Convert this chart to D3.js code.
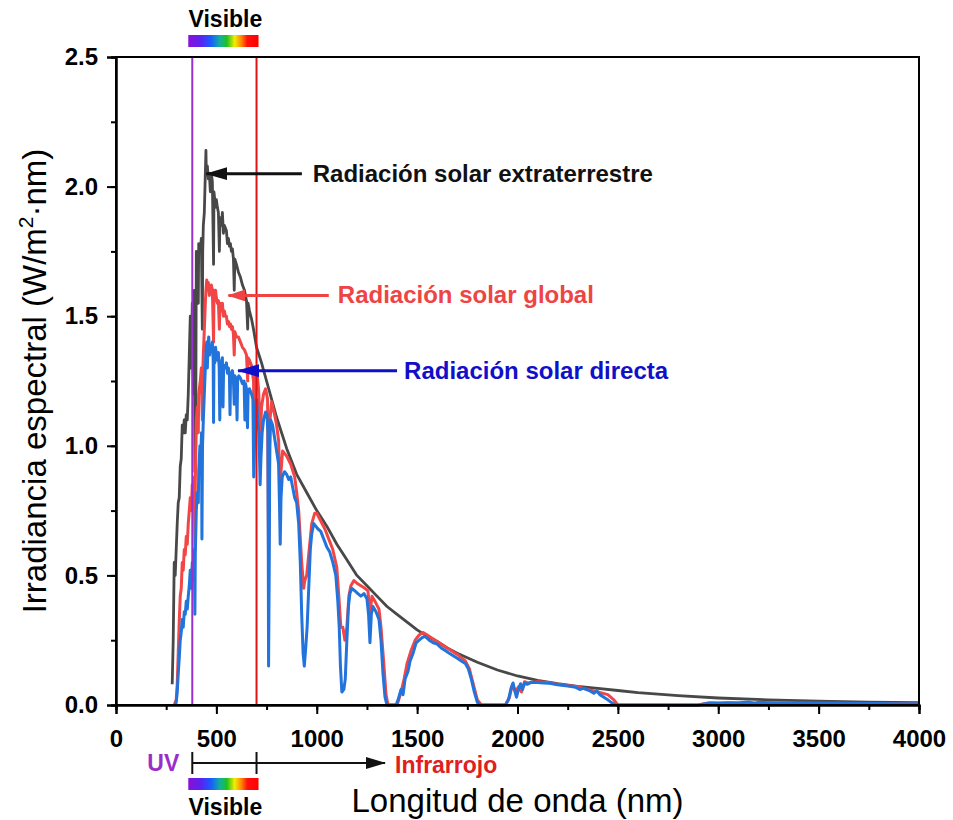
<!DOCTYPE html>
<html><head><meta charset="utf-8">
<script src="https://cdn.jsdelivr.net/npm/d3@7"></script>
<style>body{margin:0;background:#fff}svg{display:block}text{font-family:"Liberation Sans",Arial,sans-serif}</style>
</head><body><svg id="c" width="953" height="820"></svg>
<script>
const xTicks=[0,500,1000,1500,2000,2500,3000,3500,4000];
const yTicks=[0.0,0.5,1.0,1.5,2.0,2.5];
const bandEdges=[380,700];
const seriesNames=["Radiación solar extraterrestre","Radiación solar global","Radiación solar directa"];

const extraterrestre=[[280,0.08],[285,0.25],[290,0.55],[295,0.5],[300,0.6],[305,0.7],[310,0.78],[315,0.8],[320,0.92],[325,0.95],[330,1.08],[335,1.05],[340,1.1],[345,1.05],[350,1.12],[355,1.1],[360,1.2],[365,1.35],[370,1.5],[375,1.3],[380,1.55],[385,1.2],[390,1.6],[393,0.9],[395,1.5],[397,1.0],[400,1.75],[405,1.72],[410,1.55],[412,1.78],[420,1.75],[425,1.8],[430,1.45],[432,1.75],[435,1.85],[440,1.9],[445,2.05],[448,2.14],[450,2.05],[455,2.08],[460,2.03],[465,2.05],[470,1.98],[475,2.05],[480,2.02],[486,1.7],[488,1.98],[492,1.95],[495,1.92],[500,1.95],[505,1.92],[510,1.9],[515,1.75],[518,1.88],[525,1.85],[530,1.9],[535,1.82],[540,1.85],[545,1.84],[550,1.83],[555,1.78],[560,1.8],[565,1.77],[570,1.78],[575,1.75],[580,1.76],[585,1.72],[589,1.6],[592,1.72],[600,1.7],[610,1.67],[620,1.65],[630,1.62],[640,1.6],[650,1.56],[656,1.45],[658,1.55],[665,1.52],[675,1.49],[685,1.45],[700,1.38],[725,1.32],[750,1.25],[775,1.18],[800,1.11],[850,0.99],[900,0.89],[950,0.82],[1000,0.75],[1050,0.69],[1100,0.62],[1150,0.56],[1200,0.5],[1250,0.46],[1300,0.42],[1350,0.38],[1400,0.35],[1450,0.32],[1500,0.29],[1550,0.265],[1600,0.245],[1650,0.22],[1700,0.2],[1800,0.165],[1900,0.135],[2000,0.112],[2100,0.095],[2200,0.082],[2300,0.072],[2400,0.064],[2500,0.056],[2600,0.048],[2800,0.036],[3000,0.027],[3250,0.02],[3500,0.015],[3750,0.011],[4000,0.009]];

const global=[[290,0],[300,0.02],[305,0.08],[310,0.2],[315,0.32],[320,0.42],[325,0.45],[330,0.55],[335,0.52],[340,0.6],[345,0.58],[350,0.65],[355,0.62],[360,0.7],[365,0.75],[370,0.8],[375,0.75],[380,0.85],[385,0.78],[390,0.88],[393,0.6],[395,0.85],[400,1.1],[405,1.15],[410,1.05],[412,1.2],[420,1.25],[425,1.3],[430,1.1],[432,1.28],[435,1.35],[440,1.45],[445,1.55],[448,1.6],[452,1.64],[456,1.6],[460,1.63],[465,1.58],[470,1.6],[475,1.62],[480,1.6],[486,1.4],[488,1.6],[492,1.56],[496,1.6],[500,1.57],[505,1.55],[510,1.56],[515,1.45],[518,1.55],[525,1.52],[530,1.55],[535,1.5],[540,1.52],[545,1.5],[550,1.5],[555,1.47],[560,1.48],[565,1.46],[570,1.47],[575,1.45],[580,1.46],[585,1.43],[589,1.35],[592,1.44],[600,1.42],[610,1.42],[620,1.4],[630,1.38],[640,1.37],[650,1.35],[656,1.25],[658,1.34],[665,1.33],[675,1.31],[685,1.25],[688,1.1],[692,1.25],[700,1.3],[710,1.22],[720,1.05],[725,1.15],[735,1.2],[745,1.22],[755,1.18],[760,0.55],[763,0.75],[767,1.1],[775,1.17],[790,1.12],[800,1.08],[810,1.02],[818,0.8],[822,0.9],[830,0.98],[850,0.96],[870,0.93],[890,0.88],[900,0.82],[910,0.75],[925,0.55],[935,0.45],[940,0.48],[950,0.5],[960,0.58],[975,0.7],[990,0.74],[1000,0.74],[1020,0.71],[1040,0.68],[1060,0.64],[1080,0.6],[1100,0.53],[1110,0.42],[1120,0.3],[1130,0.3],[1140,0.25],[1150,0.3],[1160,0.42],[1170,0.46],[1185,0.48],[1200,0.47],[1220,0.46],[1240,0.45],[1255,0.44],[1265,0.35],[1275,0.42],[1290,0.4],[1310,0.37],[1320,0.3],[1335,0.15],[1345,0.04],[1355,0],[1400,0],[1420,0.05],[1435,0.1],[1450,0.16],[1470,0.21],[1490,0.25],[1510,0.27],[1530,0.28],[1550,0.27],[1600,0.245],[1650,0.22],[1700,0.195],[1740,0.17],[1760,0.14],[1780,0.08],[1800,0.02],[1820,0],[1940,0],[1960,0.03],[1975,0.08],[1990,0.05],[2005,0.07],[2020,0.05],[2035,0.09],[2050,0.085],[2100,0.09],[2150,0.087],[2200,0.08],[2250,0.075],[2300,0.07],[2350,0.06],[2400,0.05],[2450,0.04],[2480,0.02],[2500,0],[2900,0],[2950,0.008],[3000,0.008],[3500,0.007],[4000,0.005]];

const directa=[[295,0],[300,0.01],[305,0.05],[310,0.12],[315,0.18],[320,0.25],[325,0.28],[330,0.33],[335,0.3],[340,0.36],[345,0.35],[350,0.4],[355,0.37],[360,0.42],[365,0.46],[370,0.52],[375,0.45],[380,0.55],[385,0.5],[390,0.6],[393,0.35],[395,0.58],[400,0.75],[405,0.82],[410,0.78],[412,0.9],[418,1.0],[422,0.95],[426,1.05],[428,0.64],[431,1.0],[435,1.1],[440,1.2],[445,1.3],[448,1.36],[452,1.4],[455,1.3],[458,1.38],[462,1.42],[466,1.35],[470,1.38],[475,1.37],[480,1.4],[484,1.33],[486,1.09],[488,1.35],[492,1.32],[496,1.38],[500,1.35],[505,1.33],[510,1.36],[514,1.3],[517,1.1],[520,1.3],[525,1.32],[530,1.34],[533,1.15],[536,1.3],[540,1.31],[545,1.3],[550,1.32],[555,1.28],[560,1.3],[565,1.27],[568,1.12],[571,1.28],[575,1.27],[580,1.29],[585,1.25],[589,1.16],[592,1.27],[598,1.26],[603,1.1],[606,1.26],[612,1.27],[620,1.26],[630,1.24],[638,1.25],[642,1.1],[645,1.24],[650,1.22],[655,1.07],[658,1.21],[665,1.22],[675,1.2],[682,1.18],[686,0.88],[690,1.0],[694,1.15],[700,1.18],[706,1.1],[712,1.05],[718,0.85],[722,0.95],[728,1.05],[735,1.1],[745,1.13],[752,1.12],[757,1.05],[760,0.15],[763,0.5],[766,1.0],[770,1.1],[780,1.08],[790,1.03],[800,0.98],[810,0.93],[815,0.75],[818,0.62],[822,0.8],[828,0.88],[840,0.9],[850,0.89],[860,0.87],[870,0.88],[880,0.84],[890,0.8],[900,0.78],[910,0.7],[918,0.55],[925,0.35],[932,0.2],[938,0.15],[945,0.22],[952,0.3],[960,0.45],[968,0.6],[975,0.66],[985,0.7],[995,0.69],[1005,0.68],[1020,0.67],[1035,0.64],[1050,0.61],[1065,0.59],[1080,0.55],[1095,0.5],[1105,0.4],[1112,0.3],[1118,0.15],[1125,0.05],[1135,0.06],[1142,0.1],[1150,0.25],[1158,0.38],[1165,0.43],[1175,0.45],[1190,0.44],[1205,0.43],[1220,0.42],[1235,0.43],[1250,0.41],[1258,0.35],[1265,0.24],[1272,0.35],[1280,0.38],[1295,0.36],[1310,0.33],[1320,0.25],[1330,0.12],[1340,0.03],[1350,0],[1395,0],[1405,0.02],[1420,0.06],[1430,0.04],[1440,0.1],[1455,0.13],[1465,0.17],[1480,0.2],[1495,0.24],[1510,0.25],[1525,0.26],[1540,0.265],[1560,0.25],[1580,0.24],[1600,0.235],[1620,0.22],[1640,0.21],[1660,0.2],[1680,0.19],[1700,0.18],[1720,0.17],[1740,0.16],[1755,0.14],[1770,0.1],[1785,0.05],[1800,0.01],[1810,0],[1940,0],[1955,0.02],[1968,0.065],[1978,0.085],[1988,0.05],[1995,0.03],[2005,0.06],[2015,0.082],[2025,0.06],[2035,0.085],[2050,0.08],[2070,0.088],[2100,0.087],[2130,0.085],[2160,0.084],[2200,0.078],[2230,0.075],[2260,0.072],[2290,0.068],[2310,0.06],[2330,0.064],[2360,0.055],[2380,0.045],[2395,0.055],[2410,0.04],[2430,0.03],[2450,0.02],[2470,0.008],[2490,0],[2900,0],[2930,0.004],[2960,0.008],[3000,0.007],[3050,0.009],[3100,0.008],[3150,0.012],[3180,0.006],[3200,0.01],[3300,0.008],[3400,0.008],[3500,0.007],[3600,0.007],[3700,0.006],[3800,0.006],[3900,0.005],[4000,0.005]];

// annotation anchors (data coordinates): [arrowTipNm, lineEndNm, value, textNm]
const annotExtra=[450,926,2.05,980];
const annotGlobal=[560,1060,1.58,1105];
const annotDirecta=[608,1400,1.29,1435];

const svg=d3.select("#c");
const W=953,H=820;
const m={l:116,r:34,t:57,b:115};
const x=d3.scaleLinear().domain([0,4000]).range([m.l,W-m.r]);
const y=d3.scaleLinear().domain([0,2.5]).range([H-m.b,m.t]);

const defs=svg.append("defs");
const grad=defs.append("linearGradient").attr("id","rb").attr("x1","0").attr("x2","1");
[["0%","#8a10d8"],["18%","#5a22f0"],["32%","#1a5aff"],["45%","#10b0a0"],["55%","#20c020"],["66%","#f0f000"],["76%","#ff8000"],["84%","#ff1010"],["100%","#ff0000"]].forEach(s=>grad.append("stop").attr("offset",s[0]).attr("stop-color",s[1]));
function marker(id,col,w,h){defs.append("marker").attr("id",id).attr("viewBox",`0 0 ${w} ${h}`).attr("refX",w-1).attr("refY",h/2).attr("markerWidth",w).attr("markerHeight",h).attr("markerUnits","userSpaceOnUse").attr("orient","auto").append("path").attr("d",`M0,0L${w},${h/2}L0,${h}z`).attr("fill",col);}
marker("mk","#111",22,13);marker("mr","#ee4444",18,12);marker("mb","#1010c8",22,13);marker("mk2","#111",20,12);

// series
const line=d3.line().x(d=>x(d[0])).y(d=>y(d[1]));
svg.append("path").datum(extraterrestre).attr("d",line).attr("fill","none").attr("stroke","#484848").attr("stroke-width",2.8).attr("stroke-linejoin","round");
svg.append("path").datum(global).attr("d",line).attr("fill","none").attr("stroke","#f24646").attr("stroke-width",3).attr("stroke-linejoin","round");
svg.append("path").datum(directa).attr("d",line).attr("fill","none").attr("stroke","#2273dc").attr("stroke-width",3).attr("stroke-linejoin","round");

// band lines
svg.append("line").attr("x1",x(bandEdges[0])).attr("x2",x(bandEdges[0])).attr("y1",y(2.5)).attr("y2",y(0)).attr("stroke","#9a30d0").attr("stroke-width",2);
svg.append("line").attr("x1",x(bandEdges[1])).attr("x2",x(bandEdges[1])).attr("y1",y(2.5)).attr("y2",y(0)).attr("stroke","#dd1515").attr("stroke-width",2);

// frame & axes
svg.append("rect").attr("x",x(0)).attr("y",y(2.5)).attr("width",x(4000)-x(0)).attr("height",y(0)-y(2.5)).attr("fill","none").attr("stroke","#000").attr("stroke-width",2);
const xa=svg.append("g").attr("transform",`translate(0,${y(0)})`);
xa.call(d3.axisBottom(x).tickValues(d3.range(0,4001,250)).tickSize(5).tickFormat(""));
xa.call(g=>g.selectAll(".tick line").attr("stroke-width",2));
const xa2=svg.append("g").attr("transform",`translate(0,${y(0)})`).call(d3.axisBottom(x).tickValues(xTicks).tickSize(9).tickPadding(16).tickFormat(d3.format("d")));
xa2.selectAll(".tick line").attr("stroke-width",2);
xa2.selectAll("text").attr("font-size",24).attr("font-weight","bold").attr("fill","#000");
[xa,xa2].forEach(g=>g.select(".domain").attr("stroke-width",2));
const ya=svg.append("g").attr("transform",`translate(${x(0)},0)`).call(d3.axisLeft(y).tickValues(d3.range(0,2.51,0.25)).tickSize(5).tickFormat(""));
ya.selectAll(".tick line").attr("stroke-width",2);
const ya2=svg.append("g").attr("transform",`translate(${x(0)},0)`).call(d3.axisLeft(y).tickValues(yTicks).tickSize(9).tickPadding(9).tickFormat(d3.format(".1f")));
ya2.selectAll(".tick line").attr("stroke-width",2);
ya2.selectAll("text").attr("font-size",24).attr("font-weight","bold").attr("fill","#000");
[ya,ya2].forEach(g=>g.select(".domain").attr("stroke-width",2));

// axis titles
svg.append("text").attr("x",(x(0)+x(4000))/2).attr("y",812).attr("text-anchor","middle").attr("font-size",33).text("Longitud de onda (nm)");
const yl=svg.append("text").attr("transform",`translate(46,${(y(0)+y(2.5))/2}) rotate(-90)`).attr("text-anchor","middle").attr("font-size",33);
yl.append("tspan").text("Irradiancia espectral (W/m");
yl.append("tspan").attr("dy",-13).attr("font-size",21).text("2");
yl.append("tspan").attr("dy",13).text("·nm)");

// annotations
function annot(a,col,mk,txt){
  svg.append("line").attr("x1",x(a[1])).attr("x2",x(a[0])).attr("y1",y(a[2])).attr("y2",y(a[2])).attr("stroke",col).attr("stroke-width",3).attr("marker-end",`url(#${mk})`);
  svg.append("text").attr("x",x(a[3])).attr("y",y(a[2])+8).attr("font-size",24).attr("font-weight","bold").attr("fill",col).text(txt);
}
annot(annotExtra,"#111","mk",seriesNames[0]);
annot(annotGlobal,"#ee4444","mr",seriesNames[1]);
annot(annotDirecta,"#1010c8","mb",seriesNames[2]);

// visible band top
const bx0=x(bandEdges[0])-4, bx1=x(bandEdges[1])+2;
svg.append("rect").attr("x",bx0).attr("y",35).attr("width",bx1-bx0).attr("height",12).attr("fill","url(#rb)");
svg.append("text").attr("x",(bx0+bx1)/2+2).attr("y",27).attr("text-anchor","middle").attr("font-size",23).attr("font-weight","bold").text("Visible");
// bottom band
const by=763;
svg.append("line").attr("x1",x(bandEdges[0])).attr("x2",x(1340)).attr("y1",by).attr("y2",by).attr("stroke","#111").attr("stroke-width",2).attr("marker-end","url(#mk2)");
bandEdges.forEach(b=>svg.append("line").attr("x1",x(b)).attr("x2",x(b)).attr("y1",by-11).attr("y2",by+11).attr("stroke","#111").attr("stroke-width",2));
svg.append("text").attr("x",x(bandEdges[0])-13).attr("y",by+8).attr("text-anchor","end").attr("font-size",23).attr("font-weight","bold").attr("fill","#9a2ec8").text("UV");
svg.append("text").attr("x",x(1390)).attr("y",by+10).attr("font-size",23).attr("font-weight","bold").attr("fill","#e02020").text("Infrarrojo");
svg.append("rect").attr("x",bx0).attr("y",778).attr("width",bx1-bx0).attr("height",12).attr("fill","url(#rb)");
svg.append("text").attr("x",(bx0+bx1)/2+2).attr("y",815).attr("text-anchor","middle").attr("font-size",23).attr("font-weight","bold").text("Visible");
</script></body></html>
